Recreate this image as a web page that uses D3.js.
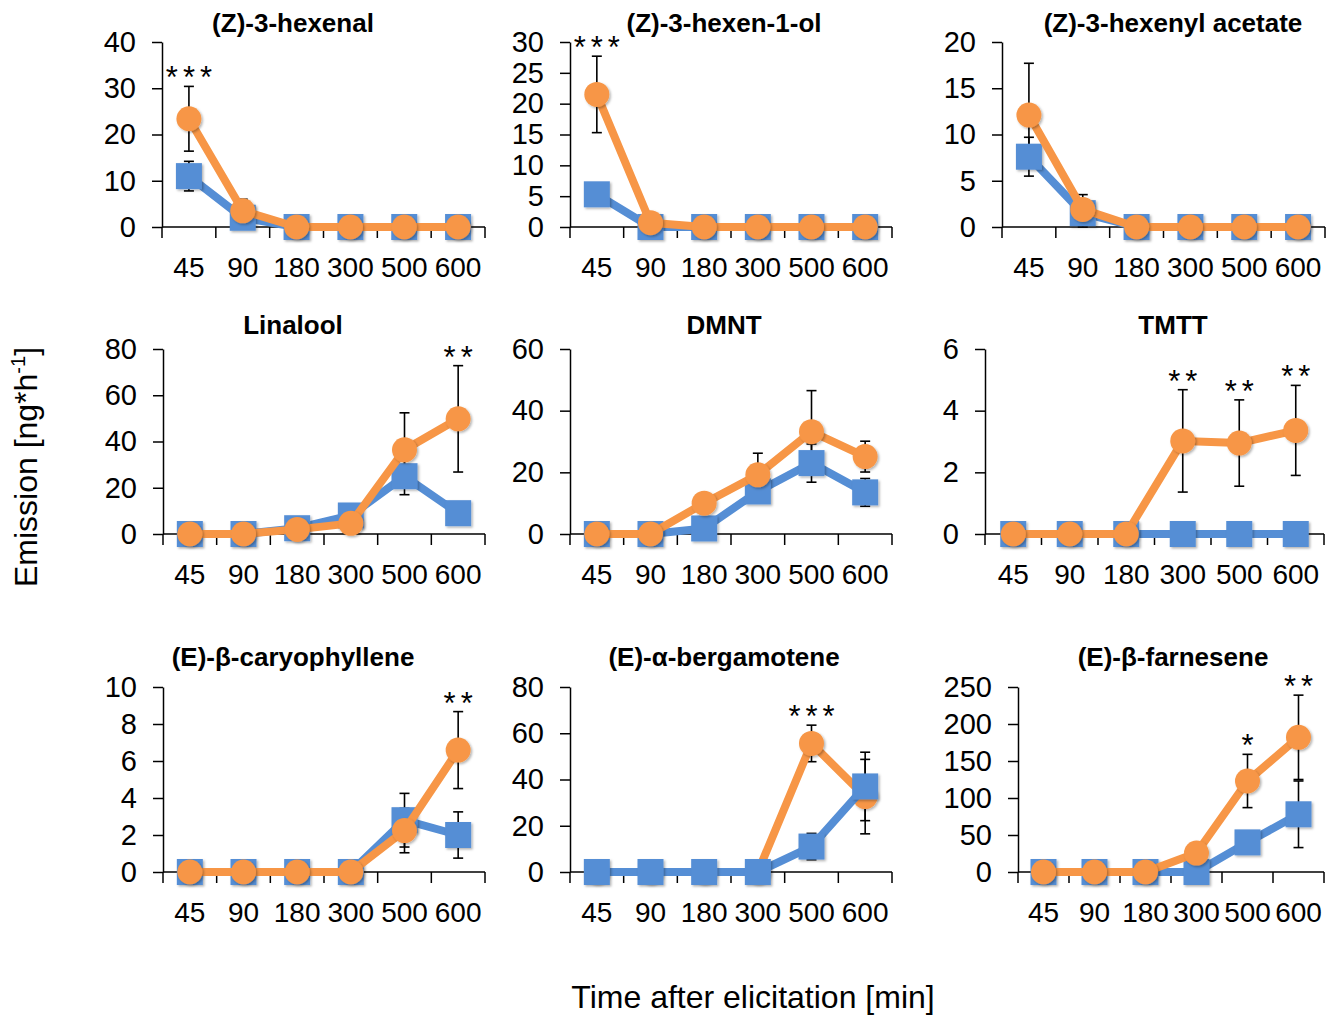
<!DOCTYPE html>
<html>
<head>
<meta charset="utf-8">
<script src="https://cdn.jsdelivr.net/npm/d3@7"></script>
<style>
  body { margin: 0; background: #fff; }
  svg { display: block; }
</style>
</head>
<body>
<svg id="chart" width="1339" height="1018"></svg>
<script>
// data
const times = ["45", "90", "180", "300", "500", "600"];
const compounds = ["(Z)-3-hexenal", "(Z)-3-hexen-1-ol", "(Z)-3-hexenyl acetate",
                   "Linalool", "DMNT", "TMTT",
                   "(E)-β-caryophyllene", "(E)-α-bergamotene", "(E)-β-farnesene"];
const yMax  = [40, 30, 20, 80, 60, 6, 10, 80, 250];
const yStep = [10, 5, 5, 20, 20, 2, 2, 20, 50];

const blueMeans = [
  [11, 2, 0, 0, 0, 0],
  [5.3, 0, 0, 0, 0, 0],
  [7.6, 1.5, 0, 0, 0, 0],
  [0, 0, 2.5, 8, 25, 9],
  [0, 0, 1.8, 13.8, 23, 13.5],
  [0, 0, 0, 0, 0, 0],
  [0, 0, 0, 0, 2.8, 2.0],
  [0, 0, 0, 0, 11, 37],
  [0, 0, 0, 0, 40, 78]
];
const blueErr = [
  [3.2, 1, 0, 0, 0, 0],
  [0.8, 0.3, 0, 0, 0, 0],
  [2.1, 1.5, 0, 0, 0, 0],
  [0, 0, 1, 3, 8, 3],
  [0, 0, 1, 3, 6.2, 4.5],
  [0, 0, 0, 0, 0, 0],
  [0, 0, 0, 0, 1.45, 1.25],
  [0, 0, 0, 0, 5.7, 14.8],
  [0, 0, 0, 0, 10, 45]
];
const orangeMeans = [
  [23.4, 3.5, 0, 0, 0, 0],
  [21.5, 0.7, 0, 0, 0, 0],
  [12.1, 1.9, 0, 0, 0, 0],
  [0, 0, 2, 4.6, 36.4, 49.8],
  [0, 0, 10, 19.2, 33.2, 25.1],
  [0, 0, 0, 3.02, 2.95, 3.36],
  [0, 0, 0, 0, 2.24, 6.59],
  [0, 0, 0, 0, 55.6, 32.6],
  [0, 0, 0, 25.6, 123, 182]
];
const orangeErr = [
  [7, 2.5, 0, 0, 0, 0],
  [6.2, 0.3, 0, 0, 0, 0],
  [5.6, 1.6, 0, 0, 0, 0],
  [0, 0, 1, 1.5, 16, 23],
  [0, 0, 2, 7, 13.3, 5],
  [0, 0, 0, 1.66, 1.4, 1.46],
  [0, 0, 0, 0, 1.2, 2.08],
  [0, 0, 0, 0, 7.9, 16.1],
  [0, 0, 0, 5, 36, 57]
];
const stars = [
  ["***", "", "", "", "", ""],
  ["***", "", "", "", "", ""],
  ["", "", "", "", "", ""],
  ["", "", "", "", "", "**"],
  ["", "", "", "", "", ""],
  ["", "", "", "**", "**", "**"],
  ["", "", "", "", "", "**"],
  ["", "", "", "", "***", ""],
  ["", "", "", "", "*", "**"]
];
// which series is drawn on top in each panel
const topSeries = ["orange", "orange", "orange", "orange", "orange", "orange", "orange", "blue", "orange"];

// layout
const plotX = [[162, 485], [570, 892], [1002, 1325],
               [163, 485], [570, 892], [985, 1324],
               [163, 485], [570, 892], [1018, 1324]];
const plotY = [[42, 227], [349, 534], [687, 872]];
const titleX = [293, 724, 1173];
const titleY = [32, 334, 666];

const BLUE = "#558ED5", ORANGE = "#F79646";
const tickFont = "'Liberation Sans', Arial, sans-serif";

const svg = d3.select("#chart");
const filter = svg.append("defs").append("filter")
  .attr("id", "shadow").attr("x", "-40%").attr("y", "-40%")
  .attr("width", "180%").attr("height", "180%");
filter.append("feDropShadow")
  .attr("dx", 1.5).attr("dy", 1.5).attr("stdDeviation", 1.3)
  .attr("flood-color", "#000").attr("flood-opacity", 0.3);

compounds.forEach((name, i) => {
  const row = Math.floor(i / 3), col = i % 3;
  const [x0, x1] = plotX[i];
  const [y0, y1] = plotY[row];

  const x = d3.scaleBand().domain(times).range([x0, x1]);
  const y = d3.scaleLinear().domain([0, yMax[i]]).range([y1, y0]);
  const cx = t => x(t) + x.bandwidth() / 2;

  const g = svg.append("g");

  // y axis
  g.append("g")
    .attr("transform", `translate(${x0},0)`)
    .call(d3.axisLeft(y)
      .tickValues(d3.range(0, yMax[i] + yStep[i] / 2, yStep[i]))
      .tickFormat(d3.format("d"))
      .tickSize(10).tickSizeOuter(0).tickPadding(16))
    .attr("font-size", 29).attr("font-family", tickFont)
    .call(a => a.selectAll("path, line").attr("stroke-width", 1.5));

  // x axis: line, ticks at category boundaries, labels in the middle
  g.append("line")
    .attr("x1", x0).attr("x2", x1).attr("y1", y(0)).attr("y2", y(0))
    .attr("stroke", "#000").attr("stroke-width", 1.5);
  g.selectAll("line.xtick")
    .data(d3.range(times.length + 1))
    .join("line").attr("class", "xtick")
    .attr("x1", k => x0 + k * x.step()).attr("x2", k => x0 + k * x.step())
    .attr("y1", y(0)).attr("y2", y(0) + 11)
    .attr("stroke", "#000").attr("stroke-width", 1.5);
  g.selectAll("text.xlab")
    .data(times)
    .join("text").attr("class", "xlab")
    .attr("x", cx).attr("y", y(0) + 50)
    .attr("text-anchor", "middle")
    .attr("font-size", 28).attr("font-family", tickFont)
    .text(d => d);

  // title
  g.append("text")
    .attr("x", titleX[col]).attr("y", titleY[row])
    .attr("text-anchor", "middle")
    .attr("font-size", 26).attr("font-weight", "bold")
    .attr("font-family", tickFont)
    .text(name);

  const series = {
    blue:   { means: blueMeans[i], err: blueErr[i], color: BLUE, shape: "square" },
    orange: { means: orangeMeans[i], err: orangeErr[i], color: ORANGE, shape: "circle" }
  };
  const order = topSeries[i] === "orange" ? ["blue", "orange"] : ["orange", "blue"];

  // error bars go behind the markers
  order.forEach(key => {
    const s = series[key];
    const bars = times.map((t, k) => ({ t, m: s.means[k], e: s.err[k] })).filter(d => d.e > 0);
    const eb = g.append("g").attr("stroke", "#000").attr("stroke-width", 1.6);
    eb.selectAll("line.v").data(bars).join("line").attr("class", "v")
      .attr("x1", d => cx(d.t)).attr("x2", d => cx(d.t))
      .attr("y1", d => y(d.m - d.e)).attr("y2", d => y(d.m + d.e));
    [-1, 1].forEach(sign => {
      eb.selectAll("line.c" + (sign + 1)).data(bars).join("line").attr("class", "c" + (sign + 1))
        .attr("x1", d => cx(d.t) - 5).attr("x2", d => cx(d.t) + 5)
        .attr("y1", d => y(d.m + sign * d.e)).attr("y2", d => y(d.m + sign * d.e));
    });
  });

  order.forEach(key => {
    const s = series[key];
    const pts = times.map((t, k) => ({ t, v: s.means[k] }));
    const line = d3.line().x(d => cx(d.t)).y(d => y(d.v));
    g.append("path").datum(pts)
      .attr("d", line)
      .attr("fill", "none").attr("stroke", s.color)
      .attr("stroke-width", 8).attr("stroke-linejoin", "round");
    const mk = g.append("g").attr("fill", s.color).attr("filter", "url(#shadow)");
    if (s.shape === "circle") {
      mk.selectAll("circle").data(pts).join("circle")
        .attr("cx", d => cx(d.t)).attr("cy", d => y(d.v)).attr("r", 12.5);
    } else {
      mk.selectAll("rect").data(pts).join("rect")
        .attr("x", d => cx(d.t) - 13).attr("y", d => y(d.v) - 13)
        .attr("width", 26).attr("height", 26);
    }
  });

  // significance stars above the highest error bar
  const ls = 5;
  g.selectAll("text.star")
    .data(times.map((t, k) => ({
      t, s: stars[i][k],
      top: Math.max(orangeMeans[i][k] + orangeErr[i][k], blueMeans[i][k] + blueErr[i][k])
    })).filter(d => d.s))
    .join("text").attr("class", "star")
    .attr("x", d => cx(d.t) + ls / 2)
    .attr("y", d => y(d.top) - 15 + 17)
    .attr("text-anchor", "middle")
    .attr("font-size", 31).attr("font-family", tickFont)
    .attr("letter-spacing", ls)
    .text(d => d.s);
});

// axis titles
const yt = svg.append("text")
  .attr("transform", "translate(37,467) rotate(-90)")
  .attr("text-anchor", "middle")
  .attr("font-size", 32).attr("font-family", tickFont);
yt.append("tspan").text("Emission [ng*h");
yt.append("tspan").attr("font-size", 20).attr("dy", -12).text("-1");
yt.append("tspan").attr("dy", 12).text("]");

svg.append("text")
  .attr("x", 753).attr("y", 1008)
  .attr("text-anchor", "middle")
  .attr("font-size", 32).attr("font-family", tickFont)
  .text("Time after elicitation [min]");
</script>
</body>
</html>
